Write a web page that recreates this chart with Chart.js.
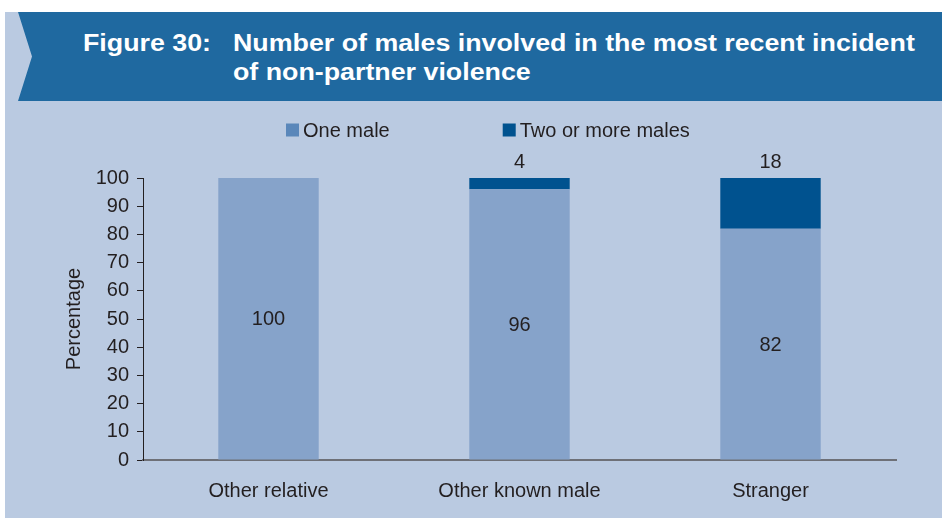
<!DOCTYPE html>
<html lang="en">
<head>
  <meta charset="UTF-8">
  <title>Figure 30</title>
  <script src="https://cdn.jsdelivr.net/npm/chart.js"></script>
  <style>
    body {
      margin: 0;
      width: 942px;
      height: 518px;
      background: #ffffff;
      font-family: "Liberation Sans", Arial, sans-serif;
      overflow: hidden;
      position: relative;
    }
    .panel {
      position: absolute;
      left: 5px;
      top: 12px;
      width: 937px;
      height: 506px;
      background: #bacae1;
    }
    .banner {
      position: absolute;
      left: 18px;
      top: 12px;
      width: 924px;
      height: 89px;
      background: #1f69a0;
      clip-path: polygon(0 0, 100% 0, 100% 100%, 0 100%, 14px 50%);
    }
    .banner span {
      position: absolute;
      color: #ffffff;
      font-weight: bold;
      font-size: 23.5px;
      line-height: 1;
      white-space: nowrap;
      transform: scaleX(1.14);
      transform-origin: left top;
    }
    #chartBox {
      position: absolute;
      left: 0;
      top: 101px;
    }
  </style>
</head>
<body>
  <div class="panel"></div>
  <div class="banner">
    <span style="left:65px; top:20px;">Figure 30:</span>
    <span style="left:215px; top:20px;">Number of males involved in the most recent incident</span>
    <span style="left:215px; top:49px;">of non-partner violence</span>
  </div>
  <div id="chartBox">
    <canvas id="chart" width="942" height="417"></canvas>
  </div>

  <script>
    const categories = ['Other relative', 'Other known male', 'Stranger'];
    const oneMale = [100, 96, 82];
    const twoOrMore = [0, 4, 18];
    const yTicks = [0, 10, 20, 30, 40, 50, 60, 70, 80, 90, 100];

    const FONT = '"Liberation Sans", Arial, sans-serif';
    const TEXT = '#231f20';

    // value labels: one male in the middle of the bar, two or more above it
    const valueLabels = {
      id: 'valueLabels',
      afterDatasetsDraw(chart) {
        const ctx = chart.ctx;
        ctx.save();
        ctx.font = '20px ' + FONT;
        ctx.fillStyle = TEXT;
        ctx.textAlign = 'center';
        ctx.textBaseline = 'middle';
        chart.getDatasetMeta(0).data.forEach((bar, i) => {
          ctx.fillText(String(oneMale[i]), bar.x, (bar.y + bar.base) / 2 + 1);
        });
        chart.getDatasetMeta(1).data.forEach((bar, i) => {
          if (twoOrMore[i] > 0) ctx.fillText(String(twoOrMore[i]), bar.x, bar.y - 16);
        });
        ctx.restore();
      }
    };

    // legend drawn by hand, the built in one cannot space items this wide
    const customLegend = {
      id: 'customLegend',
      afterDraw(chart) {
        const ctx = chart.ctx;
        const y = chart.chartArea.top - 48;
        const swatch = ['#5a87ba', '#00528f'];
        let x = 286;
        ctx.save();
        ctx.font = '20px ' + FONT;
        ctx.textBaseline = 'middle';
        chart.data.datasets.forEach((ds, i) => {
          ctx.fillStyle = swatch[i];
          ctx.fillRect(x, y - 6.5, 13, 13);
          ctx.fillStyle = TEXT;
          ctx.fillText(ds.label, x + 17, y + 1);
          x += 17 + ctx.measureText(ds.label).width + 113;
        });
        ctx.restore();
      }
    };

    new Chart(document.getElementById('chart'), {
      type: 'bar',
      data: {
        labels: categories,
        datasets: [
          { label: 'One male', data: oneMale, backgroundColor: '#86a3ca' },
          { label: 'Two or more males', data: twoOrMore, backgroundColor: '#00528f' }
        ]
      },
      options: {
        responsive: false,
        animation: false,
        events: [],
        layout: { padding: { top: 77, right: 46, left: 0, bottom: 0 } },
        datasets: { bar: { barPercentage: 0.4, categoryPercentage: 1 } },
        plugins: {
          legend: { display: false },
          tooltip: { enabled: false }
        },
        scales: {
          x: {
            stacked: true,
            grid: { display: false },
            border: { display: true, color: '#6e7077', width: 2 },
            ticks: { color: TEXT, font: { family: FONT, size: 20 }, padding: 11 },
            afterFit(scale) { scale.height = 58; }
          },
          y: {
            stacked: true,
            min: 0,
            max: 100,
            afterBuildTicks(scale) { scale.ticks = yTicks.map(v => ({ value: v })); },
            grid: { drawOnChartArea: false, drawTicks: true, tickLength: 6, tickColor: '#231f20' },
            border: { display: true, color: '#231f20', width: 1 },
            ticks: { color: TEXT, font: { family: FONT, size: 20 }, padding: 8 },
            title: {
              display: true,
              text: 'Percentage',
              color: TEXT,
              font: { family: FONT, size: 20 },
              padding: { top: 62, bottom: 0 }
            },
            afterFit(scale) { scale.width = 143; }
          }
        }
      },
      plugins: [valueLabels, customLegend]
    });
  </script>
</body>
</html>
